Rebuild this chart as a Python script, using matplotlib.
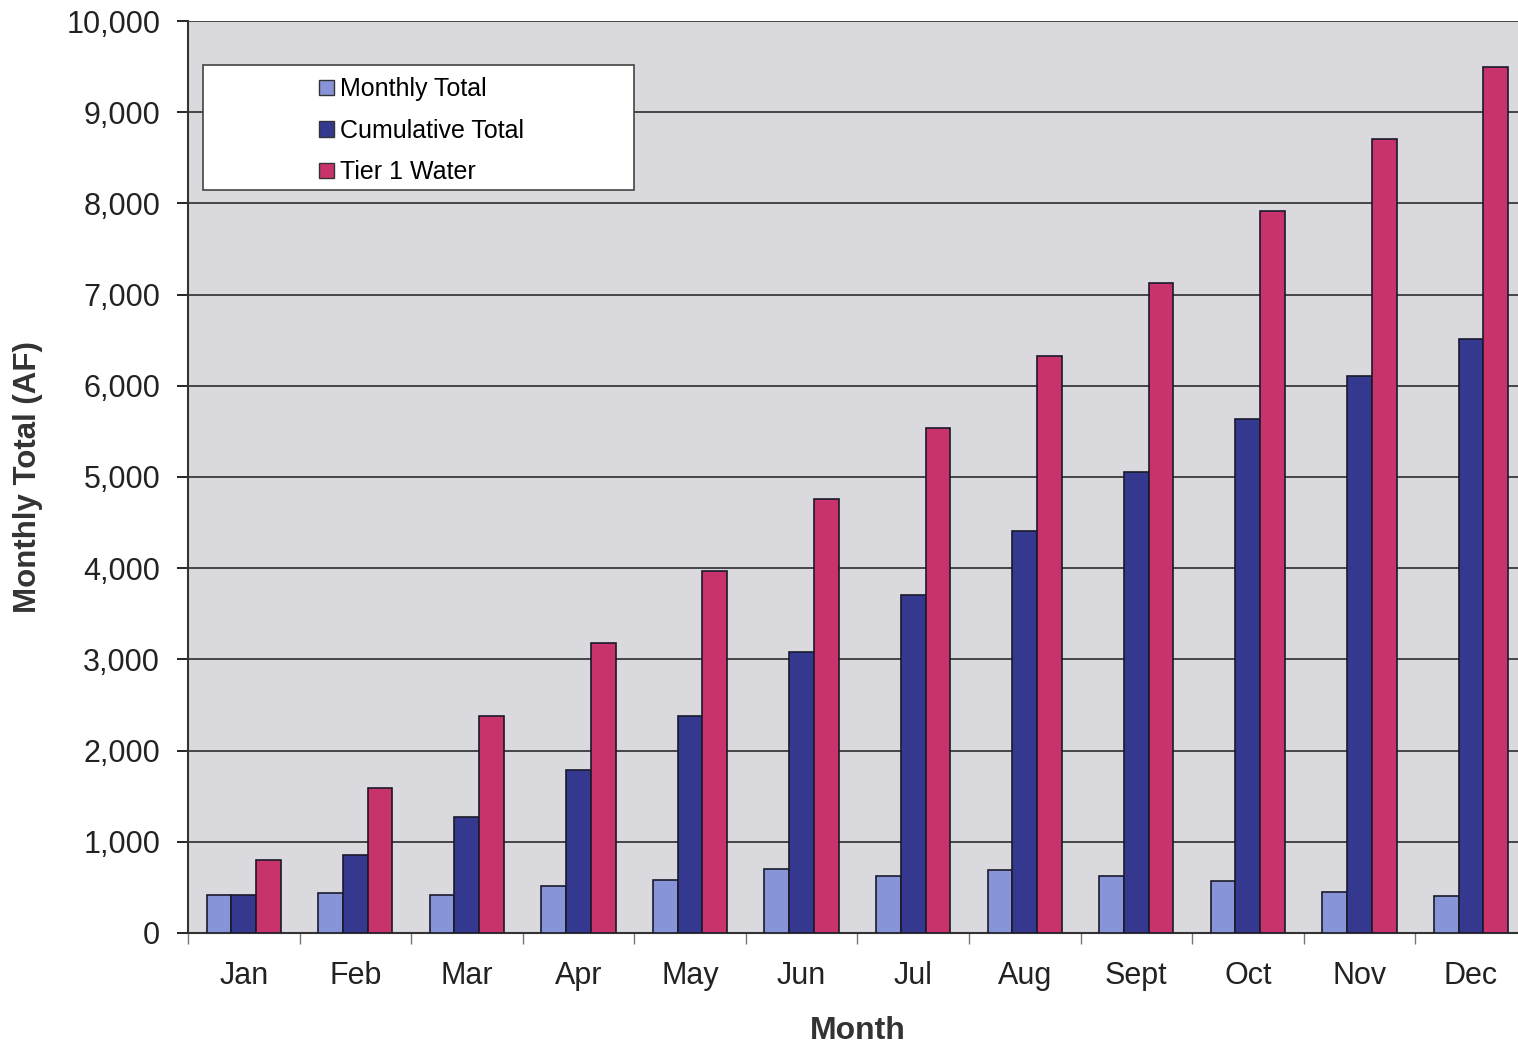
import numpy as np
import matplotlib.pyplot as plt
from matplotlib.patches import Rectangle, Patch
from matplotlib.ticker import FuncFormatter, FixedLocator

plt.rcParams['font.family'] = ['Liberation Sans', 'DejaVu Sans']

months = ['Jan', 'Feb', 'Mar', 'Apr', 'May', 'Jun', 'Jul', 'Aug', 'Sept', 'Oct', 'Nov', 'Dec']
monthly_total = [415, 435, 415, 520, 585, 700, 630, 695, 625, 575, 450, 400]
cumulative_total = [415, 850, 1270, 1790, 2375, 3080, 3705, 4410, 5055, 5640, 6105, 6515]
tier1_water = [800, 1590, 2380, 3175, 3965, 4755, 5540, 6330, 7130, 7920, 8710, 9500]

series = [
    ('Monthly Total', monthly_total, '#8795d8'),
    ('Cumulative Total', cumulative_total, '#35388f'),
    ('Tier 1 Water', tier1_water, '#c8336c'),
]

fig = plt.figure(figsize=(15.18, 10.45), dpi=100)
ax = fig.add_axes([0.1238, 0.1072, 0.882, 0.8727])
ax.set_facecolor('#d9d9de')

x = np.arange(len(months))
w = 0.222
for i, (name, vals, col) in enumerate(series):
    ax.bar(x + (i - 1) * w, vals, w, color=col, edgecolor='#1a1a2a',
           linewidth=1.2, zorder=3, label=name)

ax.set_xlim(-0.5, len(months) - 0.5)
ax.set_ylim(0, 10000)
ax.set_yticks(np.arange(0, 10001, 1000))
ax.yaxis.set_major_formatter(FuncFormatter(lambda v, p: f'{int(v):,}'))
ax.grid(axis='y', color='#3a3a3a', linewidth=1.3, zorder=1)

# boundaries between months get the tick marks, centres get the names
ax.xaxis.set_major_locator(FixedLocator(np.arange(-0.5, len(months), 1.0)))
ax.xaxis.set_minor_locator(FixedLocator(x))
ax.set_xticklabels([], minor=False)
ax.set_xticklabels(months, minor=True)
ax.tick_params(axis='x', which='major', length=8, width=1, color='#777777', direction='out')
ax.tick_params(axis='x', which='minor', length=0, pad=20, labelsize=22, labelcolor='#222222')
ax.tick_params(axis='y', length=8, width=1.2, direction='out', pad=12,
               labelsize=22, labelcolor='#222222')

for side in ['top', 'right']:
    ax.spines[side].set_visible(False)
ax.spines['left'].set_color('#333333')
ax.spines['left'].set_linewidth(1.5)
ax.spines['bottom'].set_color('#333333')
ax.spines['bottom'].set_linewidth(1.5)

ax.set_xlabel('Month', fontsize=23, fontweight='bold', color='#333333', labelpad=18)
ax.set_ylabel('Monthly Total (AF)', fontsize=22.5, fontweight='bold', color='#333333', labelpad=17)

# legend box
ax.add_patch(Rectangle((0.0112, 0.8147), 0.3223, 0.1371, transform=ax.transAxes,
                       facecolor='white', edgecolor='#444444', linewidth=1.2, zorder=5))
handles = [Patch(facecolor=c, edgecolor='#333333', linewidth=1) for _, _, c in series]
leg = ax.legend(handles, [s[0] for s in series], loc='upper left',
                bbox_to_anchor=(0.0845, 0.9575), frameon=False, fontsize=18,
                handlelength=0.6, handleheight=0.6, handletextpad=0.25,
                labelspacing=0.70, borderpad=0.2)
leg.set_zorder(6)

fig.savefig('out.png', dpi=100)
